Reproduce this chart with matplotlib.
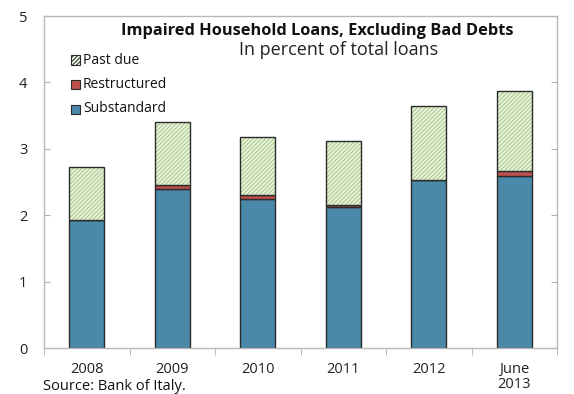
import matplotlib
matplotlib.use("Agg")
import matplotlib.pyplot as plt
import numpy as np

plt.rcParams['font.family'] = ['Open Sans', 'DejaVu Sans']
plt.rcParams['hatch.linewidth'] = 0.7

categories = ["2008", "2009", "2010", "2011", "2012", "June\n2013"]
substandard = [1.93, 2.39, 2.25, 2.12, 2.53, 2.59]
restructured = [0.00, 0.06, 0.06, 0.03, 0.00, 0.08]
past_due = [0.80, 0.95, 0.87, 0.96, 1.12, 1.20]
y_ticks = [0, 1, 2, 3, 4, 5]

W, H = 574, 394
fig = plt.figure(figsize=(W / 100, H / 100), dpi=100)
ax = fig.add_axes([44 / W, 1 - 348 / H, 513 / W, 332 / H])

x = np.arange(len(categories))
w = 0.41
edge = '#2b2b2b'
sub_c = '#4a89aa'
res_c = '#c0504d'
pd_c = '#ebf3df'
hatch_c = '#a0c781'

sub = np.array(substandard)
res = np.array(restructured)
pdv = np.array(past_due)

ax.bar(x, sub, w, color=sub_c, edgecolor=edge, linewidth=1.0, label='Substandard', zorder=2)
ax.bar(x, res, w, bottom=sub, color=res_c, edgecolor=edge, linewidth=1.0, label='Restructured', zorder=2)
ax.bar(x, pdv, w, bottom=sub + res, color=pd_c, edgecolor=hatch_c, hatch='////////',
       linewidth=0, zorder=2)
ax.bar(x, pdv, w, bottom=sub + res, color='none', edgecolor=edge, linewidth=1.0, zorder=3)

ax.set_xlim(-0.5, len(categories) - 0.5)
ax.set_ylim(0, 5)
ax.set_yticks(y_ticks)
ax.set_yticklabels([str(t) for t in y_ticks], fontsize=10.5, color='#222222')

ax.set_xticks(x)
ax.set_xticklabels(categories, fontsize=10.5, color='#222222', linespacing=1.0)
ax.tick_params(axis='x', length=0, pad=10)
ax.set_xticks(np.arange(-0.5, len(categories), 1), minor=True)
ax.tick_params(axis='x', which='minor', length=5, color='#b0b0b0', direction='out')
ax.tick_params(axis='y', length=4, color='#b0b0b0', direction='in', right=True, pad=12)

for s in ax.spines.values():
    s.set_color('#b8b8b8')
    s.set_linewidth(1.0)

fig.text(317 / W, 1 - 31 / H, 'Impaired Household Loans, Excluding Bad Debts',
         ha='center', va='center', fontsize=11.8, fontweight='bold', color='#111111')
fig.text(339 / W, 1 - 50 / H, 'In percent of total loans',
         ha='center', va='center', fontsize=13, color='#222222')

# Legend drawn as squares with labels, top to bottom
leg_items = [('Past due', pd_c, True), ('Restructured', res_c, False), ('Substandard', sub_c, False)]
leg_y = [60, 84, 109]
for (lab, col, hatched), py in zip(leg_items, leg_y):
    fig.patches.append(plt.Rectangle((71 / W, 1 - (py + 4.5) / H), 9 / W, 9 / H,
                                     transform=fig.transFigure, figure=fig,
                                     facecolor=col, edgecolor=edge, linewidth=0.8,
                                     hatch='////////' if hatched else None, zorder=4))
    fig.text(83 / W, 1 - py / H, lab, ha='left', va='center',
             fontsize=10, color='#111111')

fig.text(43 / W, 1 - 390 / H, 'Source: Bank of Italy.', ha='left', va='baseline',
         fontsize=10.5, color='#111111')

fig.savefig('out.png', dpi=100)
